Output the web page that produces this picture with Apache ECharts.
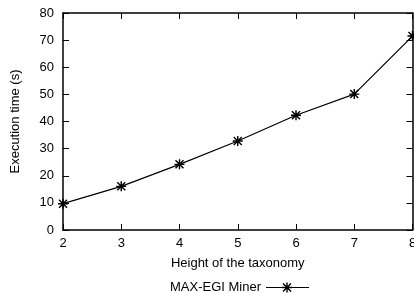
<!DOCTYPE html>
<html>
<head>
<meta charset="utf-8">
<script src="https://cdn.jsdelivr.net/npm/echarts@6/dist/echarts.min.js"></script>
<style>
html, body { margin: 0; padding: 0; background: #fff; }
#chart { width: 414px; height: 293px; }
</style>
</head>
<body>
<div id="chart"></div>
<script>
var heights = [2, 3, 4, 5, 6, 7, 8];
var execTimes = [9.7, 16.1, 24.2, 32.8, 42.3, 50.1, 71.5];
var seriesName = 'MAX-EGI Miner';

// asterisk like gnuplot point type 3
var star = 'path://M0 4.3H10V5.7H0Z M4.3 0H5.7V10H4.3Z M1.5 0.5L9.5 8.5L8.5 9.5L0.5 1.5Z M8.5 0.5L9.5 1.5L1.5 9.5L0.5 8.5Z';
var legendIcon = 'path://M0 4.6H43V5.4H0Z M16 4.3H26V5.7H16Z M20.3 0H21.7V10H20.3Z M17.5 0.5L25.5 8.5L24.5 9.5L16.5 1.5Z M24.5 0.5L25.5 1.5L17.5 9.5L16.5 8.5Z';

var font = 'Liberation Sans, Arial, sans-serif';
var chart = echarts.init(document.getElementById('chart'));
var axisLine = { onZero: false, lineStyle: { color: '#000', width: 1.5 } };
var tick = { inside: true, length: 6, lineStyle: { color: '#000', width: 1 } };
var option = {
	animation: false,
	textStyle: { fontFamily: font },
	grid: { left: 63, right: 1.5, top: 13, bottom: 63, outerBoundsMode: 'none', containLabel: false },
	legend: {
		left: 165,
		top: 276,
		align: 'right',
		itemWidth: 43,
		itemHeight: 10,
		itemGap: 0,
		textStyle: { fontSize: 13, color: '#000', fontFamily: font },
		data: [{ name: seriesName, icon: legendIcon }]
	},
	xAxis: [{
		type: 'value',
		min: 2,
		max: 8,
		interval: 1,
		name: 'Height of the taxonomy',
		nameLocation: 'middle',
		nameGap: 27,
		nameTextStyle: { fontSize: 13, color: '#000' },
		axisLine: axisLine,
		axisTick: tick,
		axisLabel: { fontSize: 13, color: '#000', margin: 7 },
		splitLine: { show: false }
	}, {
		type: 'value',
		position: 'top',
		min: 2,
		max: 8,
		interval: 1,
		axisLine: axisLine,
		axisTick: tick,
		axisLabel: { show: false },
		splitLine: { show: false }
	}],
	yAxis: [{
		type: 'value',
		min: 0,
		max: 80,
		interval: 10,
		name: 'Execution time (s)',
		nameLocation: 'middle',
		nameGap: 41,
		nameTextStyle: { fontSize: 13, color: '#000' },
		axisLine: axisLine,
		axisTick: tick,
		axisLabel: { fontSize: 13, color: '#000', margin: 9 },
		splitLine: { show: false }
	}, {
		type: 'value',
		position: 'right',
		min: 0,
		max: 80,
		interval: 10,
		axisLine: axisLine,
		axisTick: tick,
		axisLabel: { show: false },
		splitLine: { show: false }
	}],
	series: [{
		name: seriesName,
		type: 'line',
		data: heights.map(function (h, i) { return [h, execTimes[i]]; }),
		symbol: star,
		symbolSize: 10,
		showAllSymbol: true,
		lineStyle: { color: '#000', width: 1.2 },
		itemStyle: { color: '#000' }
	}]
};
chart.setOption(option);
</script>
</body>
</html>
